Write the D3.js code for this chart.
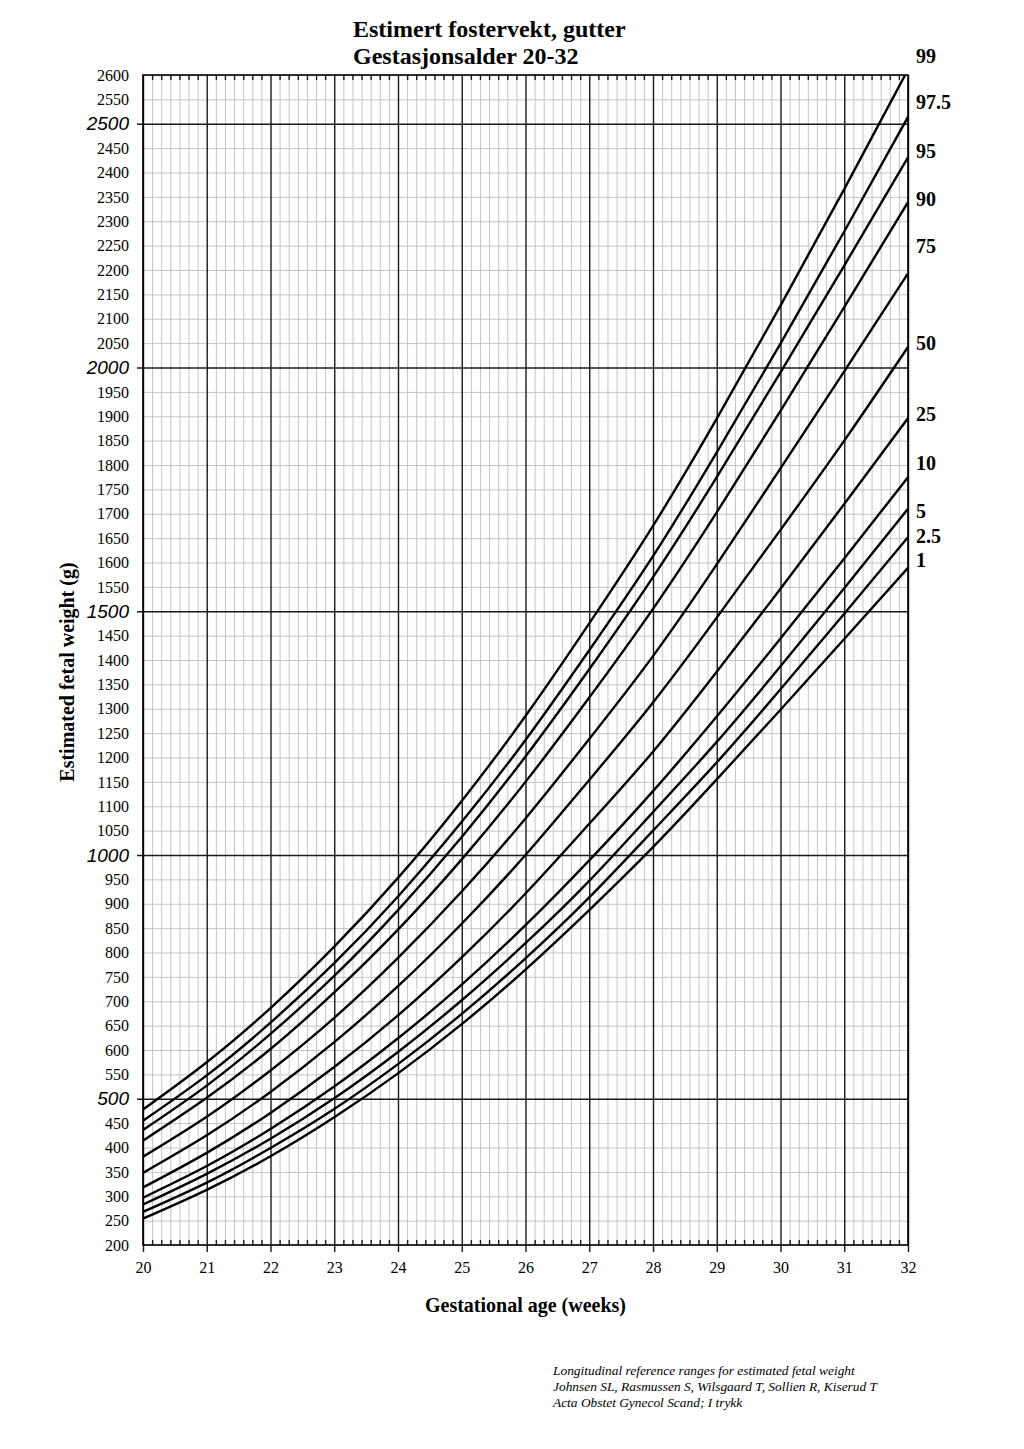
<!DOCTYPE html>
<html lang="no">
<head>
<meta charset="UTF-8">
<title>Estimert fostervekt, gutter</title>
<script src="https://d3js.org/d3.v7.min.js"></script>
<style>
  body { margin: 0; background: #fff; }
  svg { display: block; }
  .serif { font-family: "Liberation Serif", "Times New Roman", serif; }
  .minor line { stroke: #c4c4c4; stroke-width: 1; }
  .major line { stroke: #1a1a1a; stroke-width: 1.4; }
  .domain { display: none; }
  .curve { fill: none; stroke: #000; stroke-width: 2.4; }
</style>
</head>
<body>
<svg width="1024" height="1449"></svg>
<script>
// gestational weeks and centile curves (grams)
const weeks = [20, 21, 22, 23, 24, 25, 26, 27, 28, 29, 30, 31, 32];
const centiles = ['99', '97.5', '95', '90', '75', '50', '25', '10', '5', '2.5', '1'];
const w99  = [478, 575, 686, 812, 953, 1111, 1285, 1475, 1675, 1895, 2127, 2366, 2611];
const w975 = [455, 548, 656, 778, 915, 1068, 1236, 1420, 1613, 1826, 2049, 2279, 2514];
const w95  = [436, 527, 633, 752, 887, 1037, 1202, 1381, 1570, 1775, 1990, 2209, 2431];
const w90  = [414, 502, 602, 718, 847, 991, 1150, 1323, 1505, 1703, 1911, 2124, 2339];
const w75  = [381, 463, 558, 666, 789, 925, 1075, 1238, 1408, 1596, 1793, 1992, 2193];
const w50  = [348, 425, 514, 616, 731, 859, 1000, 1154, 1313, 1487, 1667, 1850, 2042];
const w25  = [318, 389, 471, 565, 671, 790, 921, 1064, 1212, 1376, 1546, 1720, 1896];
const w10  = [297, 362, 438, 525, 624, 734, 856, 989, 1131, 1284, 1444, 1608, 1775];
const w5   = [283, 346, 418, 501, 596, 702, 819, 947, 1088, 1232, 1387, 1547, 1710];
const w25b = [268, 328, 399, 479, 571, 674, 788, 913, 1050, 1190, 1340, 1495, 1652];
const w1   = [254, 313, 382, 462, 552, 653, 765, 887, 1016, 1155, 1298, 1443, 1589];
const series = [w99, w975, w95, w90, w75, w50, w25, w10, w5, w25b, w1];
// where the centile names sit on the right margin (grams)
const labelAt = [2640, 2545, 2445, 2345, 2250, 2050, 1905, 1805, 1705, 1655, 1605];

const yMin = 200, yMax = 2600;
const m = { left: 143, right: 908, top: 75, bottom: 1245 };

const svg = d3.select('svg');
const x = d3.scaleLinear().domain([20, 32]).range([m.left, m.right]);
const y = d3.scaleLinear().domain([yMin, yMax]).range([m.bottom, m.top]);

const days = d3.range(20 * 7, 32 * 7 + 1).map(d => d / 7).filter(d => Math.abs(d - Math.round(d)) > 1e-6);
const grams50 = d3.range(yMin, yMax + 1, 50).filter(g => g % 500 !== 0);
const grams500 = d3.range(500, yMax + 1, 500);
const plotW = m.right - m.left, plotH = m.bottom - m.top;

// minor grid
svg.append('g').attr('class', 'minor')
  .attr('transform', `translate(0,${m.bottom})`)
  .call(d3.axisBottom(x).tickValues(days).tickSize(-plotH).tickFormat(''));
svg.append('g').attr('class', 'minor')
  .attr('transform', `translate(${m.left},0)`)
  .call(d3.axisLeft(y).tickValues(grams50).tickSize(-plotW).tickFormat(''));

// major grid
svg.append('g').attr('class', 'major')
  .attr('transform', `translate(0,${m.bottom})`)
  .call(d3.axisBottom(x).tickValues(weeks).tickSize(-plotH).tickFormat(''));
svg.append('g').attr('class', 'major')
  .attr('transform', `translate(${m.right},0)`)
  .call(d3.axisLeft(y).tickValues(grams500).tickSize(plotW + 6).tickFormat(''));

// small day ticks on top and bottom border
svg.append('g').attr('class', 'major')
  .attr('transform', `translate(0,${m.top})`)
  .call(d3.axisTop(x).tickValues(days).tickSize(-5).tickFormat(''));
svg.append('g').attr('class', 'major')
  .attr('transform', `translate(0,${m.bottom})`)
  .call(d3.axisBottom(x).tickValues(days).tickSize(-5).tickFormat(''));

// x axis with week labels
const xAxis = svg.append('g').attr('class', 'major')
  .attr('transform', `translate(0,${m.bottom})`)
  .call(d3.axisBottom(x).tickValues(weeks).tickSize(7).tickPadding(10).tickFormat(d3.format('d')));
xAxis.selectAll('text').attr('class', 'serif').attr('font-size', 16).attr('fill', '#000');

// y axis labels
const yAxis = svg.append('g')
  .attr('transform', `translate(${m.left},0)`)
  .call(d3.axisLeft(y).tickValues(d3.range(yMin, yMax + 1, 50)).tickSize(0).tickPadding(14).tickFormat(d3.format('d')));
yAxis.selectAll('text')
  .attr('fill', '#000')
  .attr('font-family', d => d % 500 === 0 ? '"Liberation Sans", Arial, sans-serif' : '"Liberation Serif", "Times New Roman", serif')
  .attr('font-style', d => d % 500 === 0 ? 'italic' : 'normal')
  .attr('font-size', d => d % 500 === 0 ? 19 : 16);

// frame
svg.append('rect')
  .attr('x', m.left).attr('y', m.top).attr('width', plotW).attr('height', plotH)
  .attr('fill', 'none').attr('stroke', '#000').attr('stroke-width', 1.6);

// curves
svg.append('clipPath').attr('id', 'plot')
  .append('rect').attr('x', m.left).attr('y', m.top).attr('width', plotW).attr('height', plotH);

const line = d3.line()
  .x((d, i) => x(weeks[i]))
  .y(d => y(d))
  .curve(d3.curveNatural);

svg.append('g').attr('clip-path', 'url(#plot)')
  .selectAll('path')
  .data(series)
  .enter()
  .append('path')
  .attr('class', 'curve')
  .attr('d', line);

// centile names
svg.append('g').selectAll('text')
  .data(centiles)
  .enter()
  .append('text')
  .attr('class', 'serif')
  .attr('x', m.right + 8)
  .attr('y', (d, i) => y(labelAt[i]))
  .attr('dy', '0.35em')
  .attr('font-size', 20)
  .attr('font-weight', 'bold')
  .text(d => d);

// titles
svg.append('text').attr('class', 'serif')
  .attr('x', 353).attr('y', 37)
  .attr('font-size', 24).attr('font-weight', 'bold')
  .text('Estimert fostervekt, gutter');
svg.append('text').attr('class', 'serif')
  .attr('x', 353).attr('y', 64)
  .attr('font-size', 24).attr('font-weight', 'bold')
  .text('Gestasjonsalder 20-32');

svg.append('text').attr('class', 'serif')
  .attr('x', (m.left + m.right) / 2).attr('y', 1312)
  .attr('text-anchor', 'middle')
  .attr('font-size', 20).attr('font-weight', 'bold')
  .text('Gestational age (weeks)');

svg.append('text').attr('class', 'serif')
  .attr('transform', `translate(74,672) rotate(-90)`)
  .attr('text-anchor', 'middle')
  .attr('font-size', 20).attr('font-weight', 'bold')
  .text('Estimated fetal weight (g)');

// source note
const note = [
  'Longitudinal reference ranges for estimated fetal weight',
  'Johnsen SL, Rasmussen S, Wilsgaard T, Sollien R, Kiserud T',
  'Acta Obstet Gynecol Scand; I trykk'
];
svg.append('g').selectAll('text')
  .data(note)
  .enter()
  .append('text')
  .attr('class', 'serif')
  .attr('x', 553)
  .attr('y', (d, i) => 1375 + i * 16)
  .attr('font-size', 13.4)
  .attr('font-style', 'italic')
  .text(d => d);
</script>
</body>
</html>
